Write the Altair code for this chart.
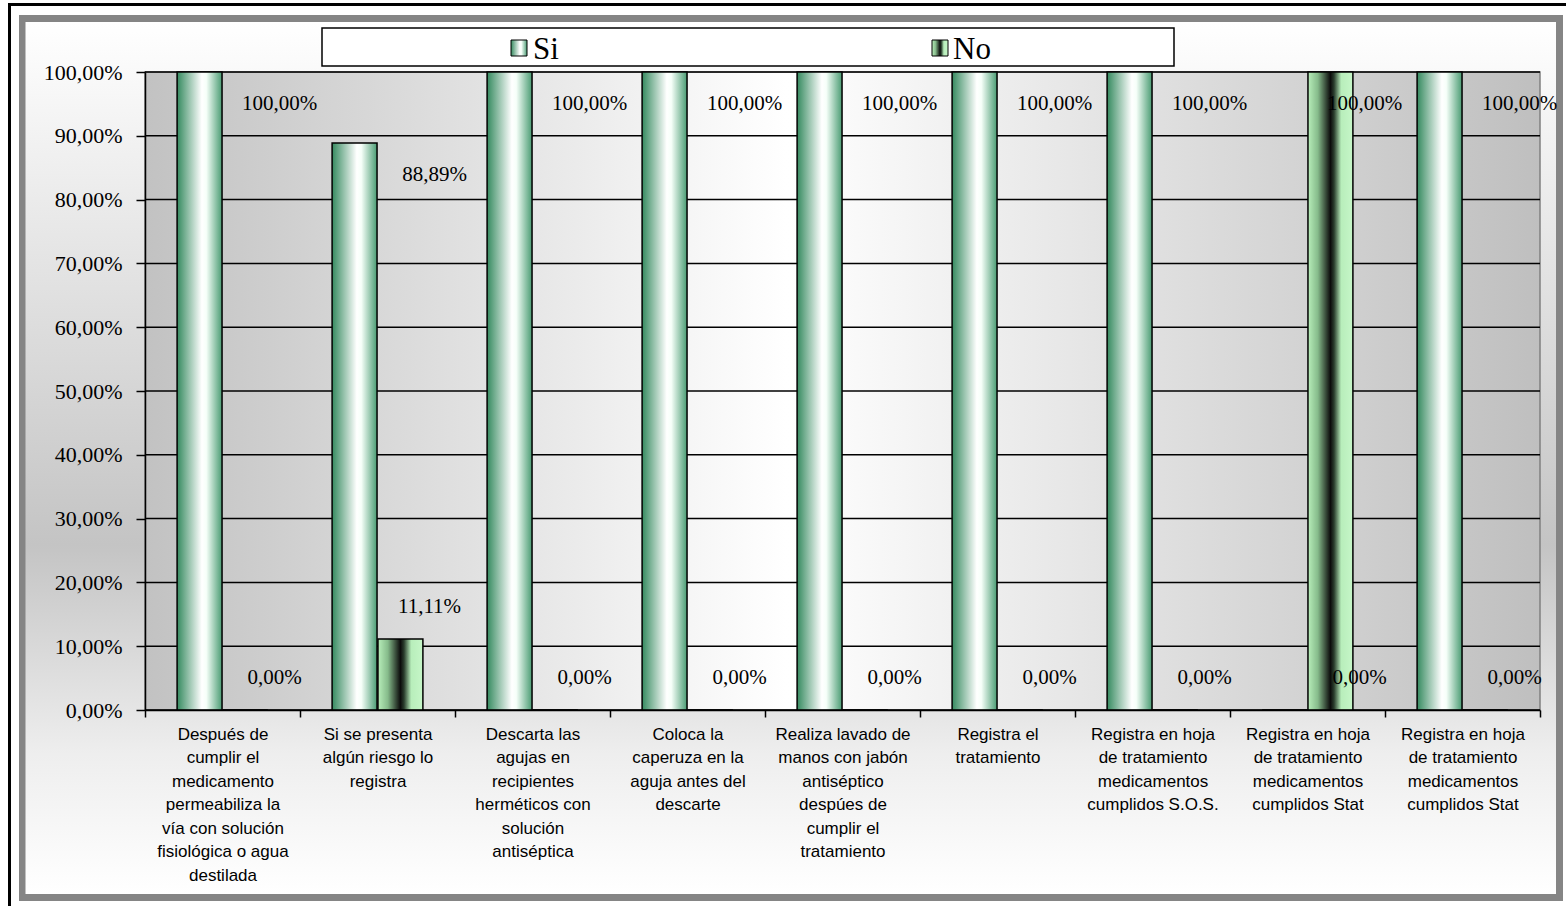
import json
import altair as alt
import pandas as pd

# ---------------- data ----------------
categories = [
    ["Después de", "cumplir el", "medicamento", "permeabiliza la", "vía con solución", "fisiológica o agua", "destilada"],
    ["Si se presenta", "algún riesgo lo", "registra"],
    ["Descarta las", "agujas en", "recipientes", "herméticos con", "solución", "antiséptica"],
    ["Coloca la", "caperuza en la", "aguja antes del", "descarte"],
    ["Realiza lavado de", "manos con jabón", "antiséptico", "despúes de", "cumplir el", "tratamiento"],
    ["Registra el", "tratamiento"],
    ["Registra en hoja", "de tratamiento", "medicamentos", "cumplidos S.O.S."],
    ["Registra en hoja", "de tratamiento", "medicamentos", "cumplidos Stat"],
    ["Registra en hoja", "de tratamiento", "medicamentos", "cumplidos Stat"],
]
series_names = ["Si", "No"]
si_values = [100.00, 88.89, 100.00, 100.00, 100.00, 100.00, 100.00, 0.00, 100.00]
no_values = [0.00, 11.11, 0.00, 0.00, 0.00, 0.00, 0.00, 100.00, 0.00]
y_ticks = [0, 10, 20, 30, 40, 50, 60, 70, 80, 90, 100]

rows = []
for i in range(len(categories)):
    rows.append({"cat": i, "serie": series_names[0], "value": si_values[i]})
    rows.append({"cat": i, "serie": series_names[1], "value": no_values[i]})
df = pd.DataFrame(rows)
grid_df = pd.DataFrame({"v": y_ticks})
one = pd.DataFrame({"k": [0]})

# ---------------- layout / style ----------------
W, H = 1395, 638
OX, OY = 145, 72  # plot origin on the canvas
PAD = {"left": OX, "top": OY, "right": 1566 - OX - W, "bottom": 906 - OY - H}


def grad_h(stops):
    return {"gradient": "linear", "x1": 0, "y1": 0, "x2": 1, "y2": 0,
            "stops": [{"offset": o, "color": c} for o, c in stops]}


def grad_v(stops):
    return {"gradient": "linear", "x1": 0, "y1": 0, "x2": 0, "y2": 1,
            "stops": [{"offset": o, "color": c} for o, c in stops]}


grad_si = grad_h([(0, "#358a5f"), (0.55, "#ffffff"), (0.65, "#f6fff9"), (1, "#4a9c73")])
grad_no = grad_h([(0, "#b8eeba"), (0.22, "#86bb8b"), (0.5, "#0b0b0b"), (0.58, "#2a3d2d"),
                  (0.74, "#b8eebb"), (1, "#c6f6c8")])
grad_plot = grad_h([(0, "#c2c2c2"), (0.46, "#ffffff"), (1, "#bfbfbf")])
grad_outer = grad_v([(0, "#ffffff"), (0.6, "#c4c4c4"), (0.84, "#eeeeee"), (1, "#ffffff")])

pct_expr = "replace(format(datum.value, '.2f'), '.', ',') + '%'"
label_expr_x = json.dumps(categories, ensure_ascii=False) + "[datum.value]"

x_scale = alt.Scale(paddingInner=0, paddingOuter=0)
y_scale = alt.Scale(domain=[0, 100], nice=False)

x_axis = alt.Axis(title=None, labelExpr=label_expr_x, labelAngle=0, labelFont="Liberation Sans",
                  labelFontSize=17, labelLineHeight=23.5, labelColor="#000000", labelPadding=9,
                  labelLimit=400, labelOverlap=False, tickBand="extent", tickSize=7,
                  tickColor="black", tickWidth=1.5, domainColor="black", domainWidth=1.5,
                  grid=False, zindex=2)
y_axis = alt.Axis(title=None, values=y_ticks, labelExpr=pct_expr, labelFont="Liberation Serif",
                  labelFontSize=22, labelColor="black", labelPadding=14, tickSize=9,
                  tickColor="black", tickWidth=1.5, domainColor="black", domainWidth=1.5,
                  grid=False, zindex=2)


def pxrect(x, y, x2, y2, **kw):
    """rectangle given in canvas pixels (converted to plot coordinates)"""
    return alt.Chart(one).mark_rect(**kw).encode(
        x=alt.value(x - OX), x2=alt.value(x2 - OX), y=alt.value(y - OY), y2=alt.value(y2 - OY))


# ---------------- frame ----------------
black_frame = pxrect(9.5, 4.5, 3000, 3000, fillOpacity=0, stroke="black", strokeWidth=3)
gray_frame = pxrect(19, 15, 1563, 901, fill="#858585")
outer_bg = pxrect(25.5, 22, 1556, 894, fill=grad_outer)
plot_bg = alt.Chart(one).mark_rect(fill=grad_plot, stroke="#808080", strokeWidth=1.5).encode(
    x=alt.value(0), x2=alt.value(W), y=alt.value(0), y2=alt.value(H))

grid = alt.Chart(grid_df).mark_rule(color="black", strokeWidth=1.5).encode(
    y=alt.Y("v:Q", scale=y_scale, axis=y_axis), x=alt.value(0), x2=alt.value(W))

# ---------------- bars ----------------
bars = alt.Chart(df).mark_bar(stroke="black", strokeWidth=1.5).encode(
    x=alt.X("cat:O", scale=x_scale, axis=x_axis),
    xOffset=alt.XOffset("serie:N", scale=alt.Scale(domain=series_names, paddingInner=0.02,
                                                   paddingOuter=0.7),
                        sort=series_names),
    y=alt.Y("value:Q", scale=y_scale, axis=y_axis),
    fill=alt.condition("datum.serie == 'Si'", alt.value(grad_si), alt.value(grad_no)),
)

text_base = alt.Chart(df).transform_calculate(lbl=pct_expr)
labels_hi = text_base.transform_filter("datum.value >= 50").mark_text(
    font="Liberation Serif", fontSize=21, dx=57, dy=32, color="black", baseline="middle"
).encode(x=alt.X("cat:O", scale=x_scale, axis=x_axis),
         y=alt.Y("value:Q", scale=y_scale, axis=y_axis), text="lbl:N")
labels_lo = text_base.transform_filter("datum.value < 50").mark_text(
    font="Liberation Serif", fontSize=21, dx=52, dy=-32, color="black", baseline="middle"
).encode(x=alt.X("cat:O", scale=x_scale, axis=x_axis),
         y=alt.Y("value:Q", scale=y_scale, axis=y_axis), text="lbl:N")

# ---------------- legend ----------------
legend_box = pxrect(322, 28, 1174, 66, fill="white", stroke="black", strokeWidth=1.5)
icon_si = pxrect(511, 40, 527, 56, fill=grad_si, stroke="black", strokeWidth=1)
icon_no = pxrect(932, 40, 948, 56, fill=grad_no, stroke="black", strokeWidth=1)
leg_text_si = alt.Chart(one).mark_text(align="left", baseline="middle", font="Liberation Serif",
                                       fontSize=31, color="black").encode(
    x=alt.value(533 - OX), y=alt.value(50 - OY), text=alt.value(series_names[0]))
leg_text_no = alt.Chart(one).mark_text(align="left", baseline="middle", font="Liberation Serif",
                                       fontSize=31, color="black").encode(
    x=alt.value(953 - OX), y=alt.value(50 - OY), text=alt.value(series_names[1]))

chart = alt.layer(
    black_frame, gray_frame, outer_bg, plot_bg, grid, bars, labels_hi, labels_lo,
    legend_box, icon_si, icon_no, leg_text_si, leg_text_no,
).properties(
    width=W, height=H, padding=PAD, autosize=alt.AutoSizeParams(type="none"), background="white"
).configure_view(strokeWidth=0)

chart.save("out.html", embed_options={"renderer": "svg", "actions": False})
